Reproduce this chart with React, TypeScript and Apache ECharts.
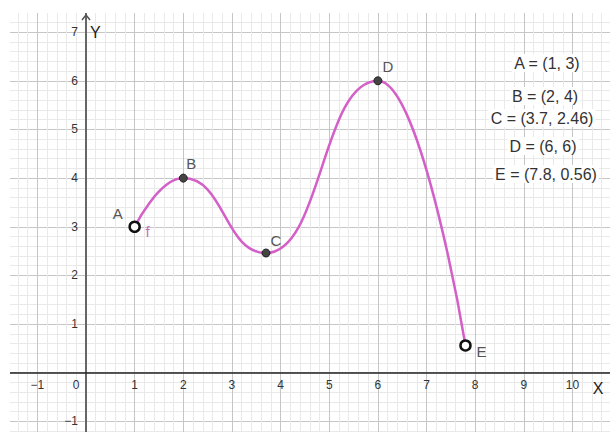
import React, { useEffect, useRef } from 'react';
import * as echarts from 'echarts';

// ---- data ----
const pointNames = ['A', 'B', 'C', 'D', 'E'];
const pointX = [1, 2, 3.7, 6, 7.8];
const pointY = [3, 4, 2.46, 6, 0.56];
const curveName = 'f';
const xRange = [-2, 11];
const yRange = [-2, 8];

// ---- styles ----
const hollowPoints = new Set(['A', 'E']);
const labelOffsets: Record<string, number[]> = {
  A: [-17, -13],
  B: [8, -15],
  C: [10, -13],
  D: [10, -14],
  E: [16, 6],
};
const FONT = '"Liberation Sans", Arial, sans-serif';
const fmtNum = (v: number) => String(v).replace('-', '\u2212');

export default function App() {
  const ref = useRef<HTMLDivElement>(null);
  useEffect(() => {
    const chart = echarts.init(ref.current!, null, { renderer: 'svg' });
    const U = 48.65;
    const originX = 86;
    const originY = 372.7;
    const gridLeft = originX - (0 - xRange[0]) * U;
    const gridTop = originY - yRange[1] * U;
    const gridW = (xRange[1] - xRange[0]) * U;
    const gridH = (yRange[1] - yRange[0]) * U;

    const lineData = pointX.map((x, i) => {
      const n = pointNames[i];
      const hollow = hollowPoints.has(n);
      return {
        value: [x, pointY[i]],
        symbol: 'circle',
        symbolSize: hollow ? 10 : 8,
        itemStyle: hollow
          ? { color: '#ffffff', borderColor: '#111', borderWidth: 2.5 }
          : { color: '#444', borderColor: '#222', borderWidth: 1 },
        label: {
          show: true,
          position: 'inside',
          offset: labelOffsets[n],
          formatter: n,
          color: '#555',
          fontSize: 15,
          fontFamily: FONT,
        },
      };
    });

    chart.setOption({
      animation: false,
      textStyle: { fontFamily: FONT },
      grid: {
        left: gridLeft,
        top: gridTop,
        width: gridW,
        height: gridH,
        containLabel: false,
        outerBoundsMode: 'none',
      },
      xAxis: {
        type: 'value',
        min: xRange[0],
        max: xRange[1],
        interval: 1,
        position: 'bottom',
        offset: -(gridTop + gridH - originY),
        axisLine: { show: true, onZero: false, lineStyle: { color: '#222', width: 1.5 } },
        axisTick: { show: false },
        splitLine: { show: true, lineStyle: { color: '#c6c6c6', width: 1 } },
        minorTick: { show: false, splitNumber: 5 },
        minorSplitLine: { show: true, lineStyle: { color: '#e9e9e9', width: 1 } },
        axisLabel: {
          margin: 6,
          fontSize: 12,
          color: '#333',
          formatter: (v: number) => {
            if (v === xRange[0] || v === xRange[1]) return '';
            if (v === 0) return '{z|0}';
            return fmtNum(v);
          },
          rich: { z: { padding: [0, 20, 0, 0], fontSize: 12, color: '#333' } },
        },
      },
      yAxis: {
        type: 'value',
        min: yRange[0],
        max: yRange[1],
        interval: 1,
        position: 'left',
        offset: -(originX - gridLeft),
        axisLine: { show: true, onZero: false, lineStyle: { color: '#666', width: 2 } },
        axisTick: { show: false },
        splitLine: { show: true, lineStyle: { color: '#c6c6c6', width: 1 } },
        minorTick: { show: false, splitNumber: 5 },
        minorSplitLine: { show: true, lineStyle: { color: '#e9e9e9', width: 1 } },
        axisLabel: {
          margin: 8,
          fontSize: 12,
          color: '#333',
          formatter: (v: number) =>
            v === 0 || v === yRange[0] || v === yRange[1] ? '' : fmtNum(v),
        },
      },
      series: [
        {
          type: 'line',
          name: curveName,
          data: lineData,
          smooth: 0.5,
          smoothMonotone: 'x',
          showAllSymbol: true,
          lineStyle: { color: '#d45fc8', width: 2.5 },
          z: 3,
        },
        {
          type: 'scatter',
          data: [[pointX[0], pointY[0]]],
          symbolSize: 2,
          itemStyle: { color: 'rgba(0,0,0,0)' },
          label: {
            show: true,
            position: 'inside',
            offset: [13, 5],
            formatter: curveName,
            color: '#c13fb4',
            fontSize: 15,
            fontFamily: FONT,
          },
          z: 4,
        },
      ],
    });

    const o = chart.convertToPixel({ xAxisIndex: 0, yAxisIndex: 0 }, [0, 0]) as number[];
    const coordTexts = pointNames.map((n, i) => `${n} = (${pointX[i]}, ${pointY[i]})`);
    const coordPos = [
      [547, 63],
      [545, 96],
      [542, 118],
      [543, 146],
      [546, 174],
    ];

    chart.setOption({
      graphic: [
        { type: 'rect', z: 100, shape: { x: 0, y: 0, width: 10, height: 432 }, style: { fill: '#fff' } },
        { type: 'rect', z: 100, shape: { x: 0, y: 0, width: 610, height: 13 }, style: { fill: '#fff' } },
        {
          type: 'polyline',
          z: 101,
          shape: { points: [[o[0] - 4, 20], [o[0], 15], [o[0] + 4, 20]] },
          style: { stroke: '#555', lineWidth: 1.5, fill: 'none' },
        },
        {
          type: 'text',
          z: 101,
          style: { text: 'Y', x: o[0] + 4, y: 32, verticalAlign: 'middle', font: `16px ${FONT}`, fill: '#222' },
        },
        {
          type: 'text',
          z: 101,
          style: { text: 'X', x: 598, y: 388, align: 'center', verticalAlign: 'middle', font: `16px ${FONT}`, fill: '#222' },
        },
        ...coordTexts.map((t, i) => ({
          type: 'text',
          z: 101,
          style: {
            text: t,
            x: coordPos[i][0],
            y: coordPos[i][1],
            align: 'center',
            verticalAlign: 'middle',
            font: `16px ${FONT}`,
            fill: '#333',
            backgroundColor: '#fff',
            padding: [1, 2],
          },
        })),
      ],
    });

    return () => chart.dispose();
  }, []);
  return (
    <div
      ref={ref}
      style={{ position: 'fixed', left: 0, top: 0, width: 610, height: 432, background: '#fff' }}
    />
  );
}
